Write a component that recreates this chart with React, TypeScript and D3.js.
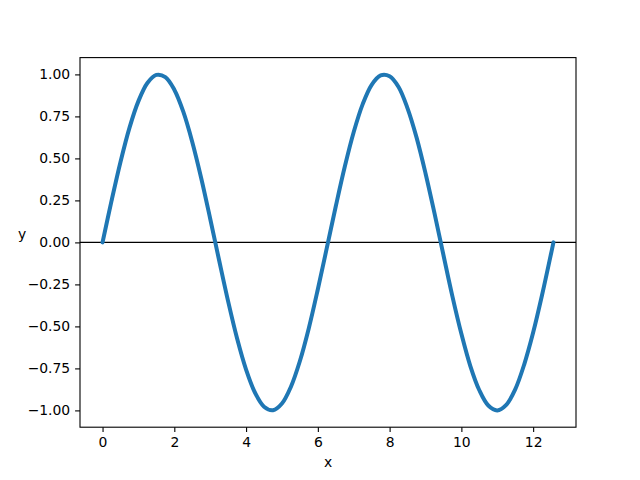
import React, { useRef, useEffect } from 'react';
import * as d3 from 'd3';

// Curve samples (x in radians, y amplitude)
const xValues = [
  0, 0.25, 0.5, 0.75, 1.0, 1.25, 1.5, 1.75, 2.0, 2.25, 2.5, 2.75, 3.0, 3.25, 3.5, 3.75,
  4.0, 4.25, 4.5, 4.75, 5.0, 5.25, 5.5, 5.75, 6.0, 6.25, 6.5, 6.75, 7.0, 7.25, 7.5, 7.75,
  8.0, 8.25, 8.5, 8.75, 9.0, 9.25, 9.5, 9.75, 10.0, 10.25, 10.5, 10.75, 11.0, 11.25, 11.5,
  11.75, 12.0, 12.25, 12.5, 12.566,
];
const yValues = [
  0, 0.247, 0.479, 0.682, 0.841, 0.949, 0.997, 0.984, 0.909, 0.778, 0.598, 0.382, 0.141,
  -0.108, -0.351, -0.572, -0.757, -0.895, -0.978, -0.999, -0.959, -0.859, -0.706, -0.509,
  -0.279, -0.033, 0.215, 0.45, 0.657, 0.823, 0.938, 0.994, 0.989, 0.925, 0.798, 0.625,
  0.412, 0.174, -0.075, -0.321, -0.544, -0.736, -0.88, -0.971, -1.0, -0.967, -0.875,
  -0.727, -0.537, -0.312, -0.066, 0,
];
const xTicks = [0, 2, 4, 6, 8, 10, 12];
const yTicks = [-1.0, -0.75, -0.5, -0.25, 0.0, 0.25, 0.5, 0.75, 1.0];

const App = () => {
  const chartRef = useRef<SVGSVGElement>(null);

  useEffect(() => {
    const svg = d3.select(chartRef.current);
    svg.selectAll('*').remove();

    const width = 640;
    const height = 480;
    const left = 80;
    const right = 576;
    const top = 57.6;
    const bottom = 427.2;
    const font = 'DejaVu Sans';

    const xMax = d3.max(xValues) as number;
    const pad = xMax * 0.05;
    const x = d3.scaleLinear().domain([-pad, xMax + pad]).range([left, right]);
    const y = d3.scaleLinear().domain([-1.1, 1.1]).range([bottom, top]);

    svg.append('rect').attr('width', width).attr('height', height).attr('fill', 'white');

    // horizontal zero line
    svg.append('line')
      .attr('x1', left).attr('x2', right)
      .attr('y1', y(0)).attr('y2', y(0))
      .attr('stroke', 'black').attr('stroke-width', 1.4);

    const line = d3.line<number>()
      .x((d, i) => x(xValues[i]))
      .y(d => y(d))
      .curve(d3.curveCatmullRom);

    svg.append('path')
      .attr('d', line(yValues))
      .attr('fill', 'none')
      .attr('stroke', '#1f77b4')
      .attr('stroke-width', 4)
      .attr('stroke-linecap', 'round')
      .attr('stroke-linejoin', 'round');

    // axes
    const xAxis = svg.append('g')
      .attr('transform', `translate(0,${bottom})`)
      .call(d3.axisBottom(x).tickValues(xTicks).tickFormat(d3.format('d')).tickSize(4.9).tickPadding(4.9));
    const yAxis = svg.append('g')
      .attr('transform', `translate(${left},0)`)
      .call(d3.axisLeft(y).tickValues(yTicks).tickFormat(d3.format('.2f')).tickSize(4.9).tickPadding(4.9));

    [xAxis, yAxis].forEach(g => {
      g.select('.domain').remove();
      g.selectAll('line').attr('stroke', 'black').attr('stroke-width', 1.1);
      g.selectAll('text').attr('font-family', font).attr('font-size', 13.9).attr('fill', 'black');
    });
    yAxis.selectAll('text').attr('dy', '0.32em');
    xAxis.selectAll('text').attr('dy', '0.71em');

    // frame
    svg.append('rect')
      .attr('x', left).attr('y', top)
      .attr('width', right - left).attr('height', bottom - top)
      .attr('fill', 'none').attr('stroke', 'black').attr('stroke-width', 1.1);

    svg.append('text')
      .attr('x', (left + right) / 2).attr('y', 467)
      .attr('text-anchor', 'middle')
      .attr('font-family', font).attr('font-size', 13.9)
      .text('x');
    svg.append('text')
      .attr('x', 22).attr('y', 239)
      .attr('text-anchor', 'middle')
      .attr('font-family', font).attr('font-size', 13.9)
      .text('y');

    return () => {
      svg.selectAll('*').remove();
    };
  }, []);

  return (
    <svg
      ref={chartRef}
      width={640}
      height={480}
      style={{ position: 'absolute', left: 0, top: 0 }}
    />
  );
};

export default App;
